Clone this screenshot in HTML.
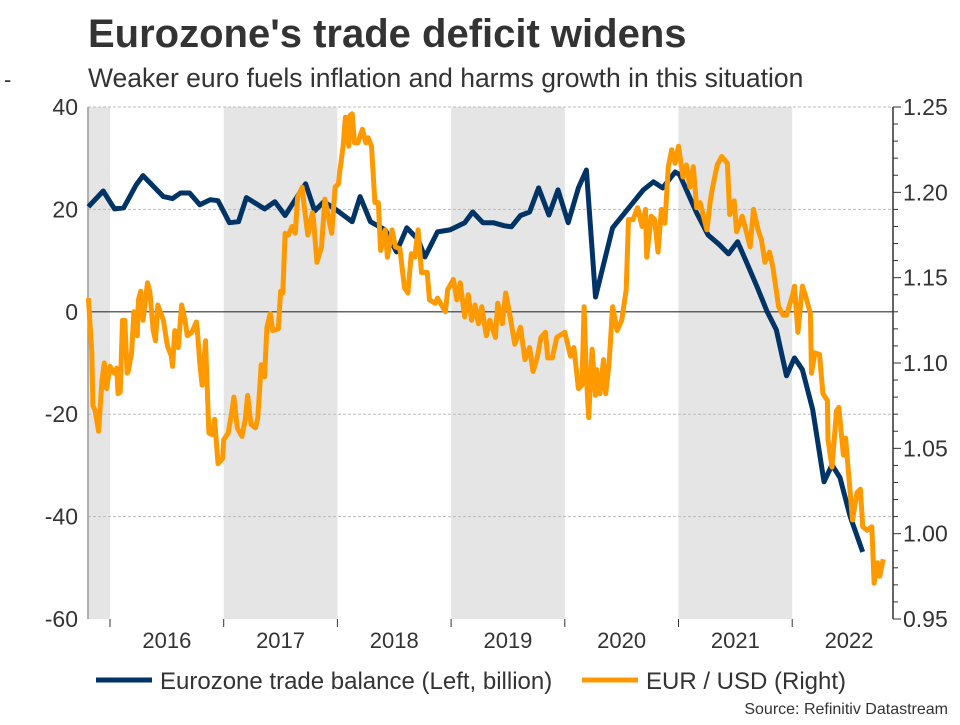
<!DOCTYPE html>
<html><head><meta charset="utf-8"><style>
body{margin:0;background:#fff;font-family:"Liberation Sans",sans-serif;}
svg text{font-family:"Liberation Sans",sans-serif;}
</style></head><body>
<svg id="c" width="960" height="720" xmlns="http://www.w3.org/2000/svg">
<text x="88" y="47" font-size="40" font-weight="bold" fill="#333">Eurozone's trade deficit widens</text>
<text x="4" y="87" font-size="22" fill="#333">-</text>
<text x="88" y="87" font-size="26.5" fill="#333">Weaker euro fuels inflation and harms growth in this situation</text>
<g id="bands"></g><g id="grid"></g><g id="axes"></g><g id="series"></g>
<g>
<line x1="96" y1="680" x2="152" y2="680" stroke="#003366" stroke-width="5"/>
<text x="160" y="689" font-size="24" fill="#333">Eurozone trade balance (Left, billion)</text>
<line x1="582" y1="680" x2="638" y2="680" stroke="#ff9900" stroke-width="5"/>
<text x="646" y="689" font-size="24" fill="#333">EUR / USD (Right)</text>
</g>
<text x="948" y="714" font-size="16" fill="#333" text-anchor="end">Source: Refinitiv Datastream</text>
</svg>
<script>
const years=[2016,2017,2018,2019,2020,2021,2022];
const leftTicks=[40,20,0,-20,-40,-60];
const rightTicks=[1.25,1.20,1.15,1.10,1.05,1.00,0.95];
const shadedYears=[2015,2017,2019,2021];
const tradeDates=[2015.81,2015.94,2016.04,2016.12,2016.23,2016.29,2016.47,2016.55,2016.62,2016.70,2016.79,2016.88,2016.95,2017.05,2017.13,2017.20,2017.36,2017.45,2017.54,2017.72,2017.80,2017.88,2017.99,2018.13,2018.20,2018.29,2018.42,2018.52,2018.61,2018.71,2018.77,2018.88,2018.99,2019.12,2019.19,2019.28,2019.37,2019.47,2019.53,2019.61,2019.69,2019.77,2019.86,2019.94,2020.03,2020.12,2020.19,2020.27,2020.42,2020.69,2020.78,2020.86,2020.97,2021.01,2021.16,2021.26,2021.36,2021.44,2021.52,2021.60,2021.69,2021.78,2021.86,2021.95,2022.02,2022.09,2022.18,2022.28,2022.35,2022.42,2022.51,2022.62];
const tradeValues=[20.5,23.6,20.1,20.3,24.8,26.6,22.5,22.1,23.2,23.2,20.9,21.9,21.7,17.4,17.6,22.3,20.1,21.5,18.8,25.0,19.7,21.5,19.9,17.6,22.5,17.6,16.0,11.7,16.4,14.1,10.7,15.6,16.0,17.4,19.5,17.4,17.4,16.8,16.6,18.8,19.5,24.2,18.9,23.8,17.4,24.2,27.7,2.9,16.4,23.8,25.4,24.2,27.3,26.8,19.3,15.0,13.1,11.3,13.7,9.6,4.9,0,-3.5,-12.5,-9.0,-11.3,-19.1,-33.2,-29.9,-32.4,-40.0,-46.9];
const fxDates=[2015.81,2015.84,2015.85,2015.87,2015.90,2015.93,2015.95,2015.97,2016.00,2016.04,2016.06,2016.07,2016.09,2016.11,2016.13,2016.15,2016.16,2016.19,2016.21,2016.24,2016.25,2016.27,2016.29,2016.33,2016.35,2016.38,2016.40,2016.42,2016.47,2016.50,2016.51,2016.54,2016.55,2016.57,2016.60,2016.63,2016.66,2016.68,2016.72,2016.76,2016.77,2016.79,2016.81,2016.84,2016.87,2016.90,2016.92,2016.95,2016.99,2017.00,2017.04,2017.07,2017.09,2017.12,2017.16,2017.19,2017.21,2017.24,2017.28,2017.30,2017.33,2017.36,2017.38,2017.41,2017.43,2017.48,2017.50,2017.52,2017.54,2017.57,2017.60,2017.63,2017.65,2017.69,2017.71,2017.74,2017.78,2017.79,2017.82,2017.86,2017.89,2017.92,2017.95,2017.98,2018.01,2018.02,2018.05,2018.07,2018.10,2018.11,2018.13,2018.15,2018.18,2018.22,2018.25,2018.27,2018.30,2018.33,2018.36,2018.38,2018.42,2018.44,2018.48,2018.51,2018.55,2018.59,2018.62,2018.65,2018.68,2018.71,2018.74,2018.79,2018.81,2018.86,2018.88,2018.95,2018.97,2019.02,2019.05,2019.08,2019.12,2019.15,2019.18,2019.21,2019.24,2019.27,2019.31,2019.34,2019.39,2019.41,2019.45,2019.48,2019.52,2019.56,2019.61,2019.65,2019.69,2019.72,2019.76,2019.79,2019.83,2019.85,2019.89,2019.93,2020.00,2020.05,2020.08,2020.12,2020.15,2020.17,2020.19,2020.21,2020.24,2020.27,2020.28,2020.31,2020.34,2020.36,2020.39,2020.42,2020.46,2020.50,2020.54,2020.56,2020.60,2020.64,2020.68,2020.71,2020.72,2020.76,2020.79,2020.82,2020.85,2020.88,2020.91,2020.94,2020.97,2021.00,2021.04,2021.07,2021.10,2021.13,2021.16,2021.19,2021.25,2021.28,2021.30,2021.34,2021.38,2021.43,2021.45,2021.49,2021.51,2021.56,2021.60,2021.63,2021.66,2021.70,2021.73,2021.76,2021.80,2021.83,2021.88,2021.92,2021.95,2022.00,2022.02,2022.05,2022.09,2022.11,2022.16,2022.17,2022.20,2022.24,2022.27,2022.31,2022.315,2022.35,2022.39,2022.41,2022.45,2022.47,2022.51,2022.53,2022.57,2022.60,2022.62,2022.66,2022.70,2022.72,2022.75,2022.77,2022.80];
const fxValues=[1.138,1.106,1.075,1.072,1.060,1.090,1.100,1.085,1.098,1.094,1.097,1.082,1.083,1.125,1.125,1.094,1.095,1.106,1.130,1.116,1.137,1.142,1.125,1.147,1.142,1.119,1.113,1.134,1.125,1.112,1.109,1.104,1.098,1.119,1.109,1.134,1.125,1.116,1.118,1.124,1.118,1.100,1.087,1.113,1.059,1.058,1.067,1.041,1.044,1.055,1.059,1.071,1.080,1.062,1.057,1.067,1.081,1.064,1.062,1.068,1.099,1.092,1.121,1.129,1.119,1.120,1.142,1.141,1.176,1.175,1.180,1.176,1.197,1.203,1.191,1.175,1.188,1.184,1.159,1.168,1.196,1.186,1.176,1.203,1.205,1.212,1.227,1.244,1.227,1.245,1.246,1.229,1.229,1.237,1.229,1.232,1.227,1.194,1.194,1.166,1.178,1.162,1.178,1.168,1.167,1.144,1.141,1.164,1.162,1.178,1.153,1.153,1.137,1.135,1.138,1.130,1.143,1.149,1.137,1.147,1.127,1.140,1.125,1.134,1.123,1.133,1.116,1.125,1.115,1.135,1.123,1.141,1.127,1.111,1.121,1.102,1.109,1.095,1.104,1.115,1.118,1.103,1.103,1.115,1.118,1.104,1.109,1.085,1.087,1.133,1.092,1.068,1.108,1.081,1.096,1.082,1.102,1.082,1.100,1.133,1.119,1.125,1.143,1.184,1.184,1.191,1.180,1.190,1.162,1.186,1.184,1.165,1.190,1.182,1.215,1.225,1.217,1.227,1.209,1.216,1.203,1.215,1.191,1.194,1.178,1.195,1.203,1.216,1.221,1.217,1.187,1.195,1.177,1.186,1.176,1.168,1.190,1.178,1.172,1.159,1.165,1.156,1.133,1.128,1.128,1.139,1.145,1.118,1.145,1.141,1.129,1.094,1.106,1.105,1.082,1.078,1.055,1.039,1.072,1.074,1.046,1.056,1.024,1.008,1.024,1.026,1.004,1.002,1.004,0.971,0.983,0.975,0.985];

const NS="http://www.w3.org/2000/svg";
const X0=88,X1=893,Y0=107,Y1=619;
const xs=d=>110+(d-2016)*113.7;
const yl=v=>Y0+(40-v)*(Y1-Y0)/100;
const yr=v=>Y0+(1.25-v)*(Y1-Y0)/0.30;
function mk(tag,attrs,parent){const e=document.createElementNS(NS,tag);for(const k in attrs)e.setAttribute(k,attrs[k]);document.getElementById(parent).appendChild(e);return e;}
shadedYears.forEach(y=>{
  const a=Math.max(X0,xs(y)),b=Math.min(X1,xs(y+1));
  const r=mk('rect',{x:a,y:Y0,width:b-a,height:Y1-Y0,fill:'#e5e5e5'},'bands');
  
  
});
leftTicks.forEach(v=>{
  const y=yl(v);
  if(v!==0&&v!==-60){const g=mk('line',{x1:X0,x2:X1,y1:y,y2:y,stroke:'#bbb','stroke-dasharray':'3,2','stroke-width':1},'grid');
  
  }
  const t=mk('text',{x:78,y:y+8,'font-size':23,fill:'#333','text-anchor':'end'},'axes');t.textContent=v;
  
  
});
const z=mk('line',{x1:X0,x2:X1,y1:yl(0),y2:yl(0),stroke:'#333','stroke-width':1.2},'grid');


rightTicks.forEach(v=>{
  const t=mk('text',{x:903,y:yr(v)+8,'font-size':23,fill:'#333'},'axes');t.textContent=v.toFixed(2);
  
  
});
for(let i=0;i<=30;i++){const y=Y0+i*(Y1-Y0)/30;
  const m=mk('line',{x1:X1,x2:X1+(i%5==0?8:5),y1:y,y2:y,stroke:'#333','stroke-width':1},'axes');
  
  }
const la=mk('line',{x1:X0,x2:X0,y1:Y0,y2:Y1,stroke:'#999','stroke-width':1.5},'axes');


const ra=mk('line',{x1:X1,x2:X1,y1:Y0,y2:Y1,stroke:'#333','stroke-width':1.5},'axes');


years.forEach(y=>{
  const t=mk('text',{x:xs(y+0.5),y:648,'font-size':22,fill:'#333','text-anchor':'middle'},'axes');t.textContent=y;
  
  
  const m=mk('line',{x1:xs(y),x2:xs(y),y1:Y1,y2:Y1+8,stroke:'#333','stroke-width':1},'axes');
  
  
});
const tp=mk('polyline',{points:tradeDates.map((d,i)=>xs(d).toFixed(1)+','+yl(tradeValues[i]).toFixed(1)).join(' '),fill:'none',stroke:'#003366','stroke-width':5,'stroke-linejoin':'round'},'series');


const fp=mk('polyline',{points:fxDates.map((d,i)=>xs(d).toFixed(1)+','+yr(fxValues[i]).toFixed(1)).join(' '),fill:'none',stroke:'#ff9900','stroke-width':5,'stroke-linejoin':'round'},'series');


</script>
</body></html>
